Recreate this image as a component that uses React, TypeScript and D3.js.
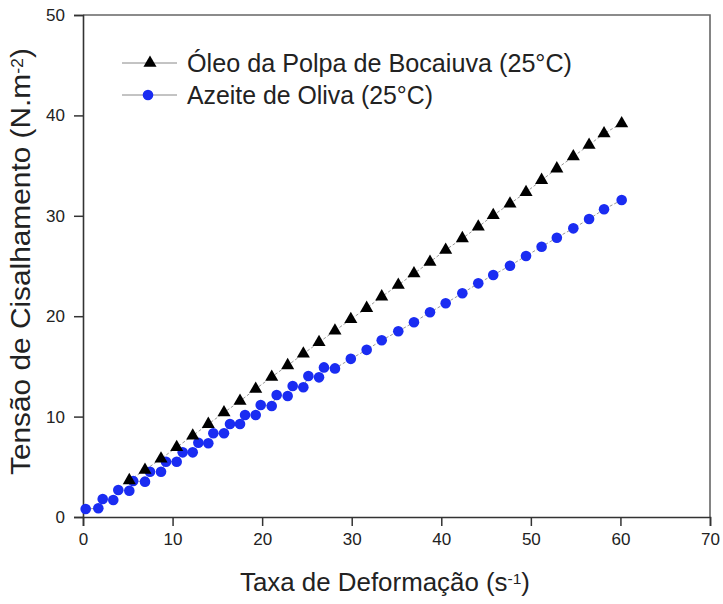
import React, { useEffect, useRef } from "react";
import * as d3 from "d3";

// Shear rate (s^-1) and shear stress (N.m^-2) readings
const bocaiuvaRate = [
  5.17, 6.92, 8.71, 10.46, 12.25, 13.99, 15.74, 17.53, 19.28, 21.07, 22.85,
  24.6, 26.35, 28.13, 29.9, 31.67, 33.35, 35.2, 36.95, 38.74, 40.49, 42.35,
  44.13, 45.8, 47.67, 49.46, 51.2, 52.9, 54.74, 56.5, 58.17, 60.14,
];
const bocaiuvaStress = [
  3.65, 4.68, 5.8, 6.95, 8.1, 9.25, 10.4, 11.55, 12.75, 13.95, 15.1, 16.25,
  17.4, 18.55, 19.7, 20.8, 21.95, 23.1, 24.25, 25.4, 26.6, 27.75, 28.9, 30.05,
  31.2, 32.35, 33.55, 34.7, 35.9, 37.05, 38.2, 39.2,
];

const oliveRate = [
  0.3, 1.71, 2.2, 3.38, 3.94, 5.17, 5.6, 6.92, 7.48, 8.71, 9.27, 10.46, 11.13,
  12.25, 12.88, 13.99, 14.55, 15.74, 16.41, 17.53, 18.09, 19.28, 19.84, 21.07,
  21.62, 22.85, 23.41, 24.6, 25.16, 26.35, 26.9, 28.13, 29.9, 31.67, 33.35,
  35.2, 36.95, 38.74, 40.49, 42.35, 44.13, 45.8, 47.67, 49.46, 51.2, 52.9,
  54.74, 56.5, 58.17, 60.14,
];
const oliveStress = [
  0.8, 0.87, 1.79, 1.69, 2.69, 2.62, 3.59, 3.52, 4.51, 4.51, 5.51, 5.51, 6.44,
  6.44, 7.4, 7.34, 8.34, 8.34, 9.26, 9.26, 10.16, 10.16, 11.16, 11.06, 12.15,
  12.05, 13.05, 12.92, 14.04, 13.91, 14.9, 14.8, 15.75, 16.65, 17.6, 18.5,
  19.4, 20.39, 21.29, 22.28, 23.27, 24.1, 25.03, 26.0, 26.92, 27.82, 28.75,
  29.68, 30.65, 31.57,
];

const xTicks = [0, 10, 20, 30, 40, 50, 60, 70];
const yTicks = [0, 10, 20, 30, 40, 50];
const seriesNames = ["Óleo da Polpa de Bocaiuva (25°C)", "Azeite de Oliva (25°C)"];

const W = 723;
const H = 604;
const M = { top: 15, right: 13, bottom: 87, left: 83 };
const FONT = "'Liberation Sans', Arial, sans-serif";
const BLUE = "#1a2cf2";
const INK = "#222";

export default function App() {
  const ref = useRef<SVGSVGElement | null>(null);

  useEffect(() => {
    const svg = d3.select(ref.current);
    svg.selectAll("*").remove();

    const x = d3.scaleLinear().domain([0, 70]).range([M.left, W - M.right]);
    const y = d3.scaleLinear().domain([0, 50]).range([H - M.bottom, M.top]);

    svg.append("rect").attr("width", W).attr("height", H).attr("fill", "#fff");

    // frame (top/right)
    svg
      .append("path")
      .attr("d", `M${x(0)},${y(50)}H${x(70)}V${y(0)}`)
      .attr("fill", "none")
      .attr("stroke", "#666")
      .attr("stroke-width", 1.6);

    // minor + major ticks
    const minorX = d3.range(5, 70, 10);
    const minorY = d3.range(5, 50, 10);
    const gx = svg.append("g").attr("transform", `translate(0,${y(0)})`);
    gx.call(
      d3.axisBottom(x).tickValues(minorX).tickSize(5).tickFormat(() => "")
    );
    gx.call(
      d3
        .axisBottom(x)
        .tickValues(xTicks)
        .tickSize(9)
        .tickPadding(6.5)
        .tickFormat(d3.format("d"))
    );
    const gy = svg.append("g").attr("transform", `translate(${x(0)},0)`);
    gy.call(d3.axisLeft(y).tickValues(minorY).tickSize(5).tickFormat(() => ""));
    gy.call(
      d3
        .axisLeft(y)
        .tickValues(yTicks)
        .tickSize(9)
        .tickPadding(9)
        .tickFormat(d3.format("d"))
    );
    [gx, gy].forEach((g) => {
      g.selectAll(".domain").attr("stroke", "#333").attr("stroke-width", 1.6);
      g.selectAll(".tick line").attr("stroke", "#333").attr("stroke-width", 1.5);
      g.selectAll("text")
        .attr("font-family", FONT)
        .attr("font-size", 17)
        .attr("fill", INK);
    });

    // connecting lines
    const line = d3
      .line<[number, number]>()
      .x((d) => x(d[0]))
      .y((d) => y(d[1]));
    const oliveData = oliveRate.map((r, i) => [r, oliveStress[i]] as [number, number]);
    const bocData = bocaiuvaRate.map((r, i) => [r, bocaiuvaStress[i]] as [number, number]);

    [oliveData, bocData].forEach((data) => {
      svg
        .append("path")
        .attr("d", line(data))
        .attr("fill", "none")
        .attr("stroke", "#999")
        .attr("stroke-width", 1)
        .attr("stroke-dasharray", "3,2");
    });

    // olive oil points
    svg
      .append("g")
      .selectAll("circle")
      .data(oliveData)
      .join("circle")
      .attr("cx", (d) => x(d[0]))
      .attr("cy", (d) => y(d[1]))
      .attr("r", 5.3)
      .attr("fill", BLUE);

    // bocaiuva pulp oil points
    const tri = d3.symbol().type(d3.symbolTriangle).size(74);
    svg
      .append("g")
      .selectAll("path")
      .data(bocData)
      .join("path")
      .attr("d", tri() as string)
      .attr("transform", (d) => `translate(${x(d[0])},${y(d[1])})`)
      .attr("fill", "#000");

    // legend
    const lg = svg.append("g");
    const rows = [
      { yPos: 63, name: seriesNames[0], kind: "tri", len: 385 },
      { yPos: 95, name: seriesNames[1], kind: "dot", len: 246 },
    ];
    rows.forEach((r) => {
      lg.append("line")
        .attr("x1", 122)
        .attr("x2", 177)
        .attr("y1", r.yPos)
        .attr("y2", r.yPos)
        .attr("stroke", "#888")
        .attr("stroke-width", 1);
      if (r.kind === "tri") {
        lg.append("path")
          .attr("d", tri() as string)
          .attr("transform", `translate(150,${r.yPos})`)
          .attr("fill", "#000");
      } else {
        lg.append("circle")
          .attr("cx", 148)
          .attr("cy", r.yPos)
          .attr("r", 5.3)
          .attr("fill", BLUE);
      }
      lg.append("text")
        .attr("x", 187)
        .attr("y", r.yPos + 9)
        .attr("font-family", FONT)
        .attr("font-size", 25)
        .attr("fill", INK)
        .attr("textLength", r.len)
        .attr("lengthAdjust", "spacingAndGlyphs")
        .text(r.name);
    });

    // axis titles
    const xt = svg
      .append("text")
      .attr("x", 385)
      .attr("y", 591)
      .attr("text-anchor", "middle")
      .attr("font-family", FONT)
      .attr("font-size", 25)
      .attr("fill", INK)
      .attr("textLength", 290)
      .attr("lengthAdjust", "spacingAndGlyphs");
    xt.append("tspan").text("Taxa de Deformação (s");
    xt.append("tspan").attr("dy", "-0.45em").attr("font-size", "0.6em").text("-1");
    xt.append("tspan").attr("dy", "0.27em").text(")");

    const yt = svg
      .append("text")
      .attr("transform", `translate(30,261.5) rotate(-90)`)
      .attr("text-anchor", "middle")
      .attr("font-family", FONT)
      .attr("font-size", 27)
      .attr("fill", INK)
      .attr("textLength", 427)
      .attr("lengthAdjust", "spacingAndGlyphs");
    yt.append("tspan").text("Tensão de Cisalhamento (N.m");
    yt.append("tspan").attr("dy", "-0.45em").attr("font-size", "0.6em").text("-2");
    yt.append("tspan").attr("dy", "0.27em").text(")");
  }, []);

  return (
    <svg
      ref={ref}
      width={W}
      height={H}
      style={{ position: "absolute", left: 0, top: 0, display: "block" }}
    />
  );
}
